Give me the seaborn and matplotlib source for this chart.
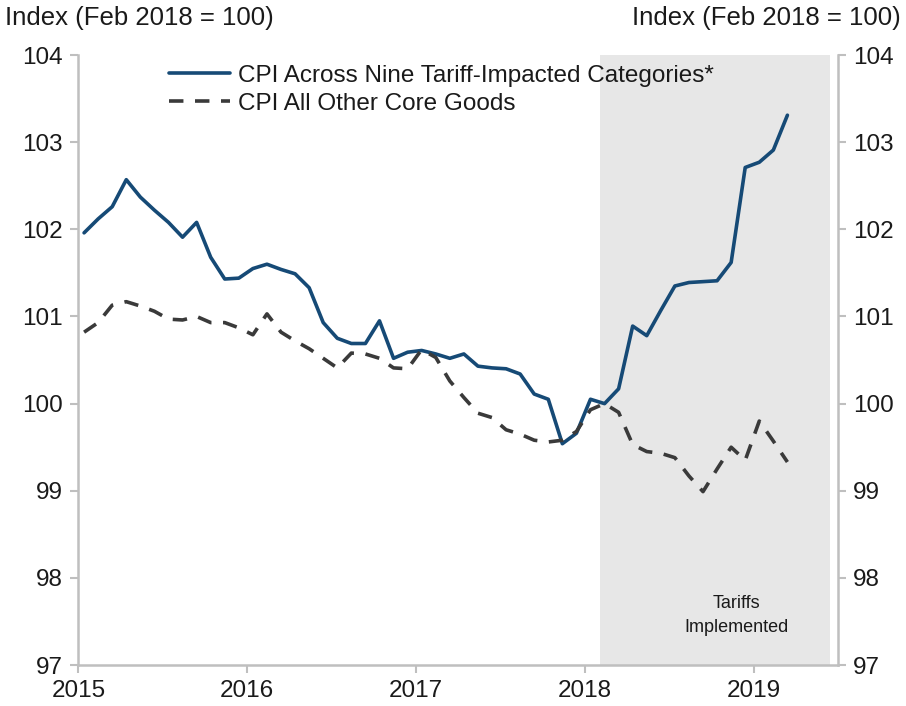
import numpy as np
import pandas as pd
import matplotlib
matplotlib.use("Agg")
import matplotlib.pyplot as plt
import seaborn as sns

# monthly index values, Jan 2015 - Mar 2019 (Feb 2018 = 100)
tariff_cpi = [101.96, 102.12, 102.26, 102.57, 102.37, 102.22, 102.08, 101.91, 102.08, 101.68,
              101.43, 101.44, 101.55, 101.60, 101.54, 101.49, 101.33, 100.93, 100.75, 100.69,
              100.69, 100.95, 100.52, 100.59, 100.61, 100.57, 100.52, 100.57, 100.43, 100.41,
              100.40, 100.34, 100.11, 100.05, 99.54, 99.66, 100.05, 100.00, 100.17, 100.89,
              100.78, 101.07, 101.35, 101.39, 101.40, 101.41, 101.62, 102.71, 102.77, 102.91,
              103.31]
other_core = [100.82, 100.93, 101.13, 101.17, 101.12, 101.06, 100.97, 100.96, 101.00, 100.93,
              100.93, 100.87, 100.79, 101.03, 100.82, 100.72, 100.63, 100.52, 100.41, 100.58,
              100.57, 100.52, 100.41, 100.40, 100.62, 100.53, 100.26, 100.07, 99.89, 99.84,
              99.70, 99.65, 99.58, 99.56, 99.58, 99.68, 99.93, 100.00, 99.90, 99.53,
              99.45, 99.43, 99.38, 99.17, 98.99, 99.25, 99.50, 99.35, 99.80, 99.57,
              99.33]
months = 2015 + (np.arange(len(tariff_cpi)) + 0.4) / 12

label_a = "CPI Across Nine Tariff-Impacted Categories*"
label_b = "CPI All Other Core Goods"
y_ticks = [97, 98, 99, 100, 101, 102, 103, 104]
x_ticks = [2015, 2016, 2017, 2018, 2019]

df = pd.DataFrame({"date": months, label_a: tariff_cpi, label_b: other_core})
df_long = df.melt(id_vars="date", var_name="series", value_name="index")

sns.set_style("white")
plt.rcParams["font.family"] = ["Liberation Sans", "DejaVu Sans"]

fig = plt.figure(figsize=(9.06, 7.06), dpi=100)
ax = fig.add_axes([0.0866, 0.058, 0.8384, 0.864])

ax.axvspan(2018.09, 2019.455, color="#e7e7e7", lw=0, zorder=0)

sns.lineplot(
    data=df_long, x="date", y="index", hue="series", style="series",
    palette={label_a: "#164a76", label_b: "#3a3a3a"},
    dashes={label_a: "", label_b: (4, 3.2)},
    linewidth=2.6, ax=ax, zorder=3
)

ax.set_xlim(2015, 2019.5)
ax.set_ylim(97, 104)
ax.set_xticks(x_ticks)
ax.set_yticks(y_ticks)
ax.set_xlabel("")
ax.set_ylabel("")

for side in ["left", "right", "bottom"]:
    ax.spines[side].set_color("#bfbfbf")
    ax.spines[side].set_linewidth(1.8)
ax.spines["top"].set_visible(False)
ax.tick_params(axis="both", which="both", direction="out", length=6, width=1.5,
               color="#bfbfbf", labelsize=17.5, labelcolor="#1a1a1a", pad=5)
ax.tick_params(axis="y", left=True, right=True, labelleft=True, labelright=True)
ax.tick_params(axis="x", bottom=True)

ax.text(2018.9, 97.57, "Tariffs\nImplemented", ha="center", va="center",
        fontsize=13, color="#1a1a1a", linespacing=1.55)

leg = ax.legend(loc="upper left", bbox_to_anchor=(0.107, 1.0), frameon=False,
                fontsize=17.5, handlelength=2.5, handletextpad=0.3,
                labelspacing=0.25, borderaxespad=0)
for t in leg.get_texts():
    t.set_color("#1a1a1a")

fig.text(0.006, 0.974, "Index (Feb 2018 = 100)", ha="left", va="center",
         fontsize=18.5, color="#1a1a1a")
fig.text(0.994, 0.974, "Index (Feb 2018 = 100)", ha="right", va="center",
         fontsize=18.5, color="#1a1a1a")

fig.savefig("out.png", dpi=100)
